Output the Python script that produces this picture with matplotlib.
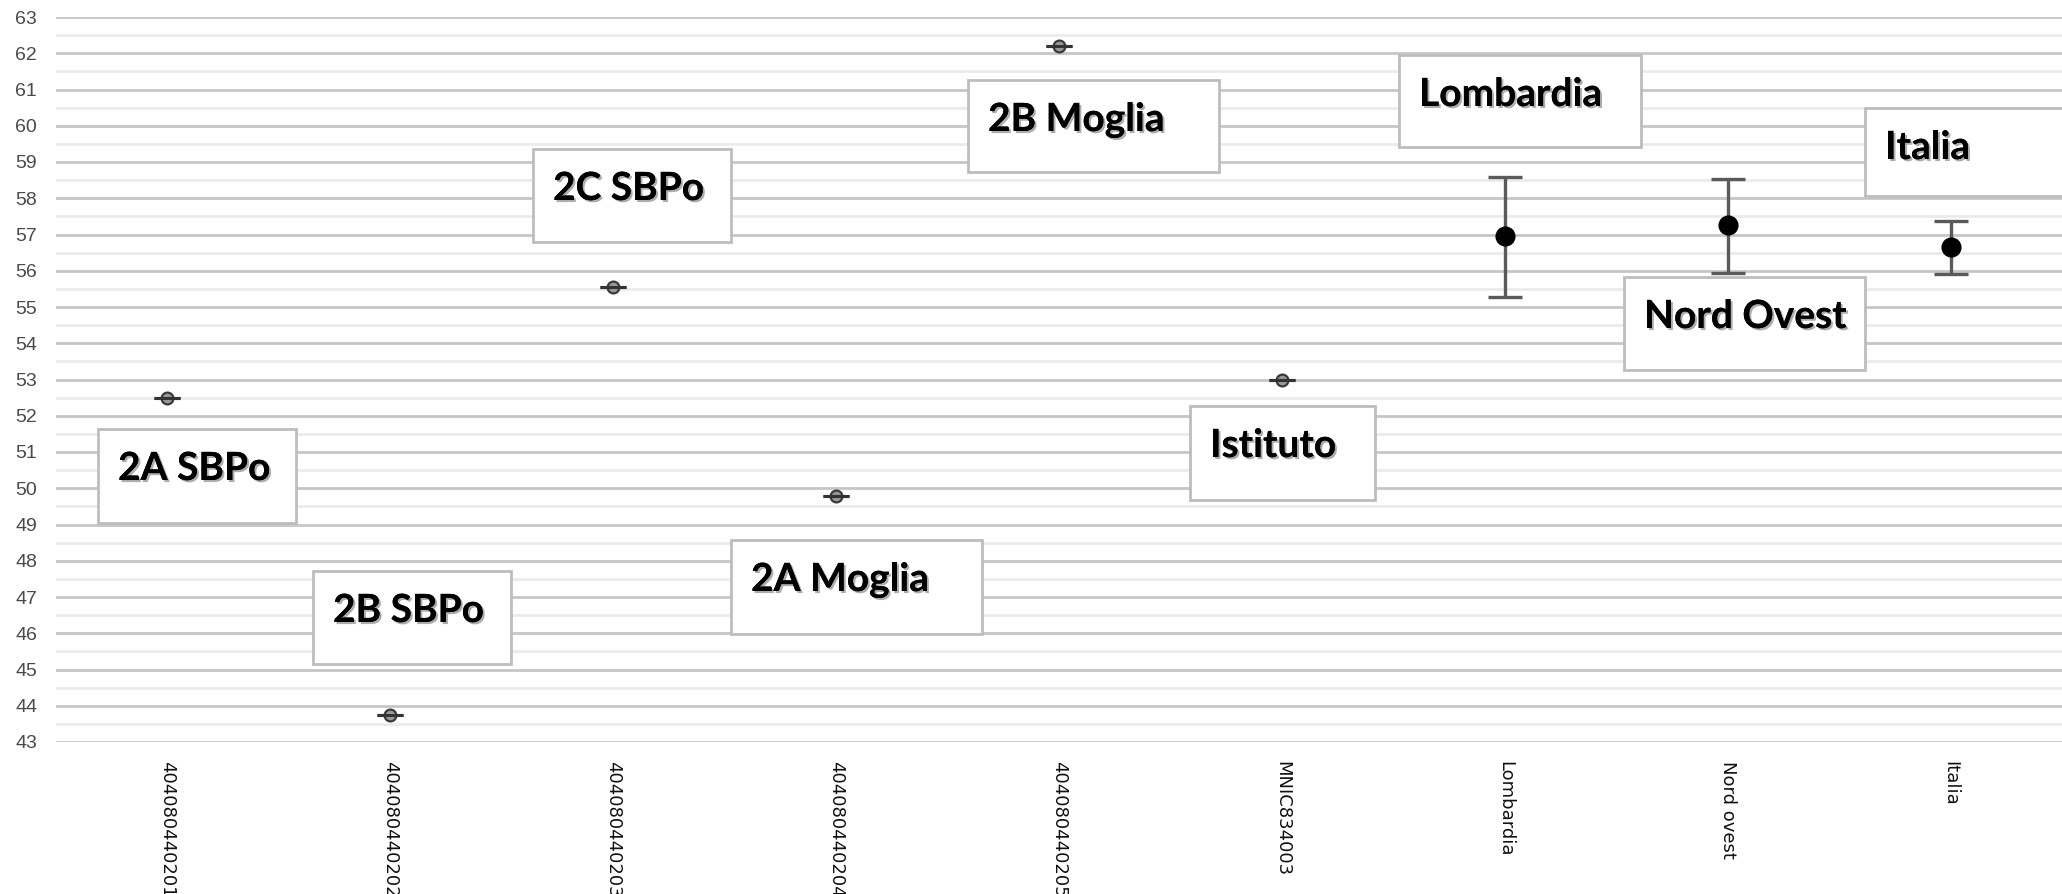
import matplotlib
matplotlib.use("Agg")
import matplotlib.pyplot as plt
import matplotlib.patheffects as pe
from matplotlib.patches import Rectangle
import numpy as np

# ---- data ----
categories = ["404080440201", "404080440202", "404080440203", "404080440204",
              "404080440205", "MNIC834003", "Lombardia", "Nord ovest", "Italia"]
values = [52.5, 43.75, 55.55, 49.8, 62.2, 53.0, 56.95, 57.25, 56.65]
lower = [52.5, 43.75, 55.55, 49.8, 62.2, 53.0, 55.28, 55.95, 55.92]
upper = [52.5, 43.75, 55.55, 49.8, 62.2, 53.0, 58.6, 58.53, 57.38]
n_schools = 6  # first entries are single schools (no interval)

# callout labels: (text, left px, top px, right px, bottom px)
callouts = [
    ("2A SBPo", 98, 429, 296, 523),
    ("2B SBPo", 313, 571, 511, 664),
    ("2C SBPo", 533, 149, 731, 242),
    ("2A Moglia", 731, 540, 982, 634),
    ("2B Moglia", 968, 80, 1219, 172),
    ("Istituto", 1190, 406, 1375, 500),
    ("Lombardia", 1399, 55, 1641, 147),
    ("Nord Ovest", 1624, 277, 1865, 370),
    ("Italia", 1865, 108, 2075, 196),
]

W, H = 2062, 894
fig = plt.figure(figsize=(W / 100, H / 100), dpi=100)
ax = fig.add_axes([56 / W, (H - 742) / H, (W - 56) / W, (742 - 17) / H])

x = np.arange(len(categories))
vals = np.array(values)
lo = vals - np.array(lower)
hi = np.array(upper) - vals

# school points: small grey circles with a flat cap
xs = x[:n_schools]
ax.plot(xs, vals[:n_schools], "o", ms=8.5, mfc="#9a9a9a", mec="#3a3a3a", mew=1.6, zorder=3)
ax.errorbar(xs, vals[:n_schools], yerr=[lo[:n_schools], hi[:n_schools]], fmt="none",
            ecolor="#333333", elinewidth=2, capsize=9.7, capthick=2.2, zorder=4)

# aggregates: black dots with intervals
xa = x[n_schools:]
ax.errorbar(xa, vals[n_schools:], yerr=[lo[n_schools:], hi[n_schools:]], fmt="none",
            ecolor="#5a5a5a", elinewidth=2.4, capsize=12, capthick=2.4, zorder=3)
ax.plot(xa, vals[n_schools:], "o", ms=13.5, color="black", zorder=4)

ax.set_xlim(-0.5, len(categories) - 0.5)
ax.set_ylim(43, 63)
ax.set_yticks(np.arange(43, 64, 1))
ax.set_yticks(np.arange(43.5, 63, 1), minor=True)
ax.grid(True, which="major", axis="y", color="#c6c6c6", lw=2)
ax.grid(True, which="minor", axis="y", color="#ebebeb", lw=2)
ax.set_axisbelow(True)
for s in ax.spines.values():
    s.set_visible(False)
ax.tick_params(axis="y", which="both", length=0, pad=13.5, labelsize=14,
               labelcolor="#4a4a4a")
ax.tick_params(axis="x", length=0, pad=14)
ax.set_xticks(x)
ax.set_xticklabels(categories, rotation=270, fontsize=13, color="#111111",
                   family="DejaVu Sans", va="top", ha="center")
for t in ax.get_yticklabels():
    t.set_family("Liberation Sans")

# callout boxes
for label, l, t, r, b in callouts:
    rect = Rectangle((l / W, 1 - b / H), (r - l) / W, (b - t) / H,
                     transform=fig.transFigure, facecolor="white",
                     edgecolor="#bdbdbd", lw=2, zorder=10)
    fig.add_artist(rect)
    txt = fig.text((l + 20) / W, 1 - (t + 51) / H, label, family="Lato",
                   fontweight="bold", fontsize=28, color="black",
                   ha="left", va="baseline", zorder=11)
    txt.set_path_effects([pe.withSimplePatchShadow(offset=(1.5, -1.5),
                                                   shadow_rgbFace="#777777", alpha=0.6),
                          pe.Normal()])

fig.savefig("out.png", dpi=100)
